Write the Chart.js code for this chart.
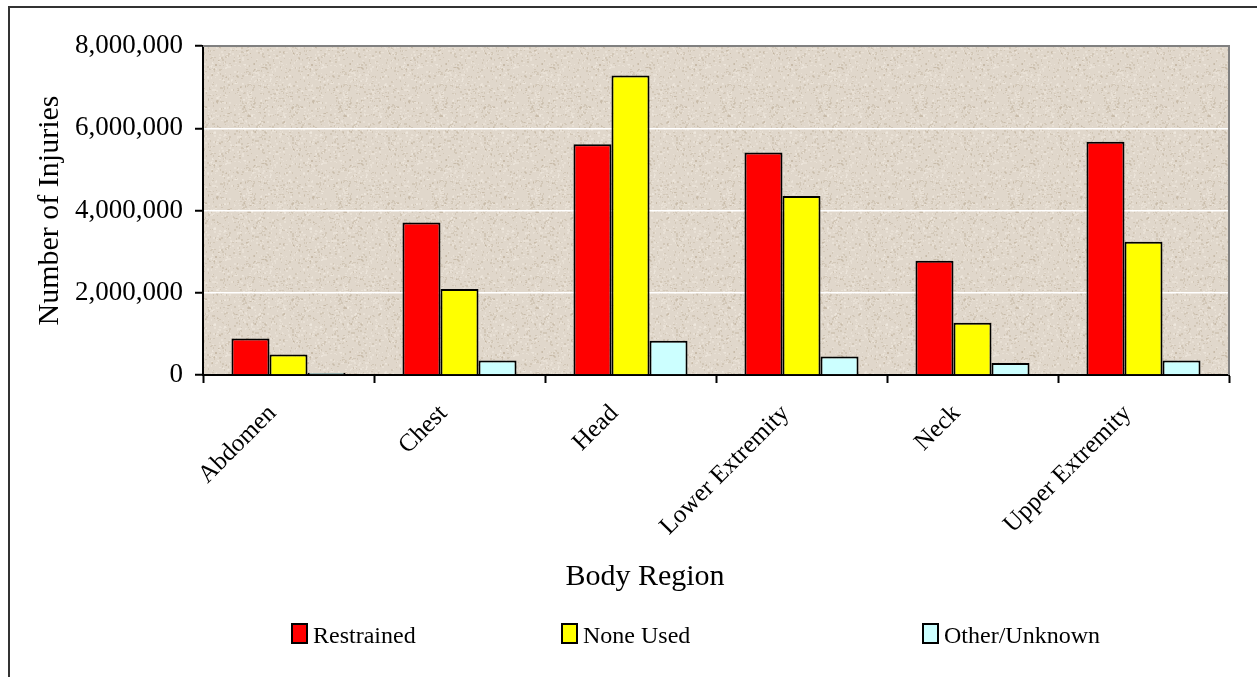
<!DOCTYPE html>
<html>
<head>
<meta charset="utf-8">
<title>Injuries by Body Region</title>
<script src="https://cdn.jsdelivr.net/npm/chart.js"></script>
<style>
    body { margin: 0; background: white; overflow: hidden; }
    canvas { display: block; }
</style>
</head>
<body>
<canvas id="injuryChart" width="1257" height="677"></canvas>
<script>
    // Data
    const regions = ['Abdomen', 'Chest', 'Head', 'Lower Extremity', 'Neck', 'Upper Extremity'];
    const restrained = [890000, 3710000, 5610000, 5410000, 2780000, 5670000];
    const noneUsed = [500000, 2090000, 7280000, 4350000, 1270000, 3240000];
    const otherUnknown = [50000, 350000, 830000, 450000, 290000, 350000];
    const yTicks = [0, 2000000, 4000000, 6000000, 8000000];

    const serif = '"Liberation Serif", "Times New Roman", serif';
    const legendX = [292, 562, 923];

    // speckled beige fill, like the old Excel parchment texture
    function makeTexture() {
        const t = document.createElement('canvas');
        t.width = t.height = 96;
        const g = t.getContext('2d');
        g.fillStyle = '#e0d7cb';
        g.fillRect(0, 0, 96, 96);
        let seed = 11;
        const next = () => (seed = (seed * 16807) % 2147483647) / 2147483647;
        for (let i = 0; i < 1100; i++) {
            const x = Math.floor(next() * 96), y = Math.floor(next() * 96);
            const light = next() < 0.5;
            g.fillStyle = light ? 'rgba(242,236,227,0.45)' : 'rgba(176,158,134,0.28)';
            g.fillRect(x, y, 1 + Math.floor(next() * 2), 1 + Math.floor(next() * 2));
        }
        return t;
    }
    const texture = makeTexture();

    const framePlugin = {
        id: 'frame',
        beforeDraw(chart) {
            const { ctx, chartArea: a } = chart;
            ctx.save();
            ctx.fillStyle = '#fff';
            ctx.fillRect(0, 0, chart.width, chart.height);
            ctx.strokeStyle = '#333';
            ctx.lineWidth = 2;
            ctx.beginPath();
            ctx.moveTo(9, chart.height);
            ctx.lineTo(9, 7);
            ctx.lineTo(chart.width, 7);
            ctx.stroke();
            ctx.fillStyle = ctx.createPattern(texture, 'repeat');
            ctx.fillRect(a.left, a.top, a.right - a.left, a.bottom - a.top);
            ctx.restore();
        },
        afterDraw(chart) {
            const { ctx, chartArea: a } = chart;
            ctx.save();
            // grey plot frame on top and right
            ctx.strokeStyle = '#808080';
            ctx.lineWidth = 2;
            ctx.beginPath();
            ctx.moveTo(a.left, a.top);
            ctx.lineTo(a.right, a.top);
            ctx.lineTo(a.right, a.bottom);
            ctx.stroke();

            // x axis title
            ctx.fillStyle = '#000';
            ctx.font = '30px ' + serif;
            ctx.textAlign = 'center';
            ctx.textBaseline = 'alphabetic';
            ctx.fillText('Body Region', 645, 585);

            // legend
            ctx.font = '24px ' + serif;
            ctx.textAlign = 'left';
            chart.data.datasets.forEach((ds, i) => {
                const x = legendX[i];
                ctx.fillStyle = ds.backgroundColor;
                ctx.fillRect(x, 624, 15, 19);
                ctx.strokeStyle = '#000';
                ctx.lineWidth = 2;
                ctx.strokeRect(x, 624, 15, 19);
                ctx.fillStyle = '#000';
                ctx.fillText(ds.label, x + 21, 643);
            });
            ctx.restore();
        }
    };

    new Chart(document.getElementById('injuryChart'), {
        type: 'bar',
        data: {
            labels: regions,
            datasets: [
                { label: 'Restrained', data: restrained, backgroundColor: '#ff0000' },
                { label: 'None Used', data: noneUsed, backgroundColor: '#ffff00' },
                { label: 'Other/Unknown', data: otherUnknown, backgroundColor: '#ccffff' }
            ].map(ds => ({
                ...ds,
                borderColor: '#000',
                borderWidth: 2,
                categoryPercentage: 0.667,
                barPercentage: 1
            }))
        },
        options: {
            responsive: false,
            devicePixelRatio: 1,
            animation: false,
            layout: { padding: { top: 46, right: 28, left: 0, bottom: 0 } },
            plugins: {
                legend: { display: false },
                tooltip: { enabled: false }
            },
            scales: {
                x: {
                    grid: { offset: true, drawOnChartArea: false, tickLength: 8, tickColor: '#000', tickWidth: 2 },
                    border: { color: '#000', width: 2 },
                    ticks: {
                        font: { family: serif, size: 25 },
                        color: '#000',
                        minRotation: 45,
                        maxRotation: 45,
                        autoSkip: false,
                        labelOffset: -16,
                        padding: 16
                    },
                    afterFit: s => { s.height = 302; }
                },
                y: {
                    min: 0,
                    max: 8000000,
                    afterBuildTicks: s => { s.ticks = yTicks.map(v => ({ value: v })); },
                    grid: {
                        color: c => (c.tick && (c.tick.value === 0 || c.tick.value === 8000000)) ? 'rgba(0,0,0,0)' : '#fff',
                        lineWidth: 1.5,
                        tickColor: '#000',
                        tickLength: 8,
                        tickWidth: 2
                    },
                    border: { color: '#000', width: 2 },
                    ticks: {
                        font: { family: serif, size: 27 },
                        color: '#000',
                        padding: 12,
                        callback: v => v.toLocaleString('en-US')
                    },
                    title: {
                        display: true,
                        text: 'Number of Injuries',
                        font: { family: serif, size: 30 },
                        color: '#000',
                        padding: { top: 32 }
                    },
                    afterFit: s => { s.width = 203; }
                }
            }
        },
        plugins: [framePlugin]
    });
</script>
</body>
</html>
